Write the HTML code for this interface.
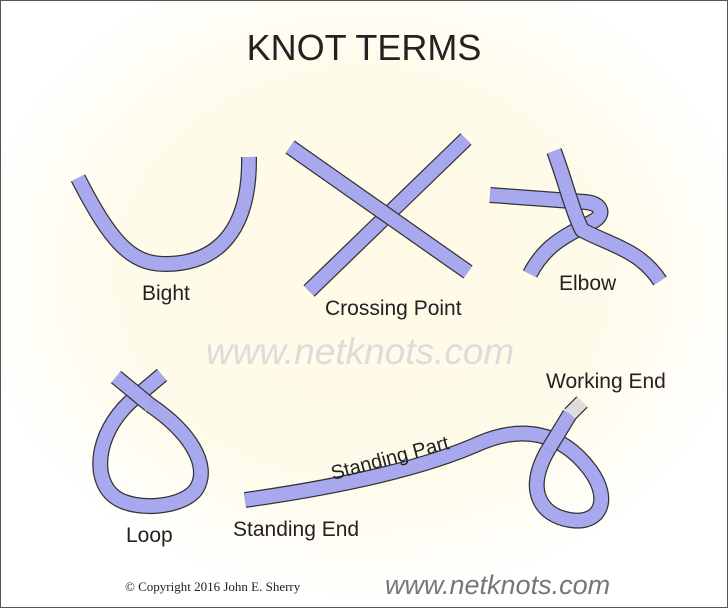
<!DOCTYPE html>
<html><head><style>
html,body{margin:0;padding:0;}
body{width:728px;height:608px;overflow:hidden;}
</style></head><body>
<svg width="728" height="608" viewBox="0 0 728 608" xmlns="http://www.w3.org/2000/svg" font-family="Liberation Sans, sans-serif">
<defs>
<radialGradient id="g" cx="0.5" cy="0.45" r="0.55">
<stop offset="0" stop-color="#fffbe6"/>
<stop offset="0.6" stop-color="#fffbea"/>
<stop offset="1" stop-color="#ffffff"/>
</radialGradient>
</defs>
<rect x="0.5" y="0.5" width="727" height="607" fill="url(#g)" stroke="#555"/>
<text x="364" y="60" font-size="36" text-anchor="middle" fill="#222">KNOT TERMS</text>
<text x="360" y="364" font-size="37" font-style="italic" text-anchor="middle" fill="#dcdcdc">www.netknots.com</text>
<g fill="none" stroke-linecap="butt" stroke-linejoin="round">
<path d="M78,178 C110,240 130,264 165,264 C218,264 250,230 249,157" stroke="#333" stroke-width="16"/>
<path d="M78,178 C110,240 130,264 165,264 C218,264 250,230 249,157" stroke="#a8a8ee" stroke-width="13.5"/>
<path d="M466,139 L309,291" stroke="#333" stroke-width="16"/>
<path d="M466,139 L309,291" stroke="#a8a8ee" stroke-width="13.5"/>
<path d="M290,147 L468,272" stroke="#333" stroke-width="16"/>
<path d="M290,147 L468,272" stroke="#a8a8ee" stroke-width="13.5"/>
<path d="M490,195 L585,202 C602,203 606,215 592,222 C565,236 545,245 530,274" stroke="#333" stroke-width="16"/>
<path d="M490,195 L585,202 C602,203 606,215 592,222 C565,236 545,245 530,274" stroke="#a8a8ee" stroke-width="13.5"/>
<path d="M554,151 C565,180 572,210 582,230 C610,245 640,250 660,281" stroke="#333" stroke-width="16"/>
<path d="M554,151 C565,180 572,210 582,230 C610,245 640,250 660,281" stroke="#a8a8ee" stroke-width="13.5"/>
<path d="M162,375 L130,402 C95,435 92,480 115,497 C135,512 185,508 197,488 C210,465 190,432 150,405" stroke="#333" stroke-width="16"/>
<path d="M162,375 L130,402 C95,435 92,480 115,497 C135,512 185,508 197,488 C210,465 190,432 150,405" stroke="#a8a8ee" stroke-width="13.5"/>
<path d="M150,405 L116,377" stroke="#333" stroke-width="16"/>
<path d="M150,405 L116,377" stroke="#a8a8ee" stroke-width="13.5"/>
<path d="M245,500 C330,488 420,470 480,443 C520,426 560,430 590,470 C612,500 600,525 570,520 C540,515 525,490 548,450" stroke="#333" stroke-width="16"/>
<path d="M245,500 C330,488 420,470 480,443 C520,426 560,430 590,470 C612,500 600,525 570,520 C540,515 525,490 548,450" stroke="#a8a8ee" stroke-width="13.5"/>
<path d="M548,450 L570,414" stroke="#333" stroke-width="16"/>
<path d="M548,450 L570,414" stroke="#a8a8ee" stroke-width="13.5"/>
<path d="M570,414 L582,402" stroke="#333" stroke-width="16"/>
<path d="M570,414 L582,402" stroke="#ddd" stroke-width="13.5"/>
</g>
<g font-size="21" fill="#222">
<text x="142" y="300">Bight</text>
<text x="325" y="315">Crossing Point</text>
<text x="559" y="290">Elbow</text>
<text x="546" y="388">Working End</text>
<text x="126" y="542">Loop</text>
<text x="233" y="536">Standing End</text>
<text x="0" y="0" font-size="20" transform="translate(333,480) rotate(-15)">Standing Part</text>
</g>
<text x="125" y="591" font-size="13" font-family="Liberation Serif, serif" fill="#222">© Copyright  2016  John E. Sherry</text>
<text x="385" y="594" font-size="27" font-style="italic" fill="#777">www.netknots.com</text>
</svg>
</body></html>
